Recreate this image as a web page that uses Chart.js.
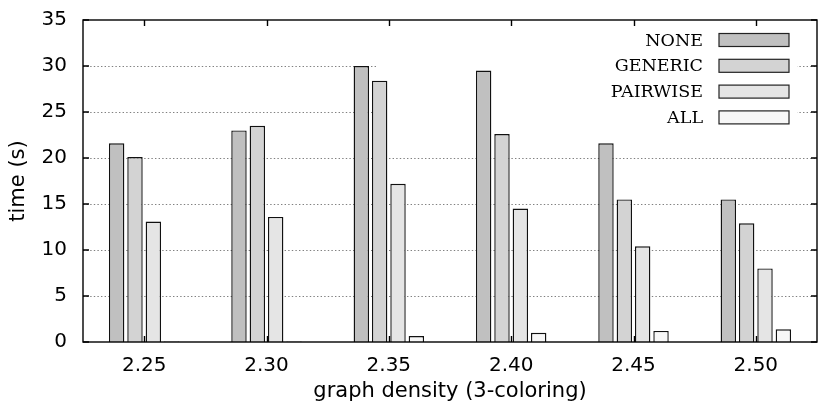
<!DOCTYPE html>
<html>
<head>
<meta charset="utf-8">
<script src="https://cdn.jsdelivr.net/npm/chart.js@4/dist/chart.umd.min.js"></script>
<style>
  html, body { margin: 0; padding: 0; background: #fff; }
  #wrap { width: 818px; height: 406px; }
</style>
</head>
<body>
<div id="wrap"><canvas id="chart" width="818" height="406"></canvas></div>
<script>
// datos
const densities = ["2.25", "2.30", "2.35", "2.40", "2.45", "2.50"];
const noneTimes = [21.6, 23.0, 30.0, 29.5, 21.6, 15.5];
const genericTimes = [20.1, 23.5, 28.4, 22.6, 15.5, 12.9];
const pairwiseTimes = [13.1, 13.6, 17.2, 14.5, 10.4, 8.0];
const allTimes = [0.05, 0.05, 0.65, 1.0, 1.2, 1.38];
const yTicks = [0, 5, 10, 15, 20, 25, 30, 35];

// Caja y marco al estilo gnuplot
const frameKey = {
  id: "frameKey",
  beforeDatasetsDraw(chart) {
    const { ctx, chartArea: a, scales } = chart;
    ctx.save();
    // grilla punteada
    ctx.strokeStyle = "#808080";
    ctx.lineWidth = 1.2;
    ctx.setLineDash([1.4, 2.2]);
    yTicks.forEach((v) => {
      if (v === 0 || v === 35) return;
      const y = Math.round(scales.y.getPixelForValue(v)) + 0.5;
      ctx.beginPath();
      ctx.moveTo(a.left, y);
      ctx.lineTo(a.right, y);
      ctx.stroke();
    });
    ctx.setLineDash([]);
    // fondo opaco de la leyenda
    ctx.fillStyle = "#fff";
    ctx.fillRect(a.right - 440, a.top + 1, 420, 115);
    ctx.restore();
  },
  afterDatasetsDraw(chart) {
    const { ctx, chartArea: a, scales } = chart;
    ctx.save();
    ctx.strokeStyle = "#000";
    ctx.lineWidth = 1.4;
    // ticks hacia adentro
    ctx.beginPath();
    yTicks.forEach((v) => {
      const y = scales.y.getPixelForValue(v);
      ctx.moveTo(a.left, y); ctx.lineTo(a.left + 6, y);
      ctx.moveTo(a.right, y); ctx.lineTo(a.right - 6, y);
    });
    densities.forEach((d, i) => {
      const x = Math.round(scales.x.getPixelForValue(i)) + 0.5;
      ctx.moveTo(x, a.top); ctx.lineTo(x, a.top + 6);
      ctx.moveTo(x, a.bottom); ctx.lineTo(x, a.bottom - 6);
    });
    ctx.stroke();
    ctx.strokeRect(a.left, a.top, a.right - a.left, a.bottom - a.top);

    // leyenda
    ctx.font = "17.5px 'DejaVu Serif'";
    ctx.textAlign = "right";
    ctx.textBaseline = "middle";
    ctx.fillStyle = "#000";
    ctx.lineWidth = 1.2;
    chart.data.datasets.forEach((ds, i) => {
      const yc = a.top + 20 + i * 25.8;
      ctx.fillText(ds.label, a.right - 114, yc + 1);
      ctx.fillStyle = ds.backgroundColor;
      ctx.fillRect(a.right - 98, yc - 6.5, 70, 13);
      ctx.strokeStyle = "#222";
      ctx.strokeRect(a.right - 98, yc - 6.5, 70, 13);
      ctx.fillStyle = "#000";
    });
    ctx.restore();
  },
};

const ctx = document.getElementById("chart").getContext("2d");
new Chart(ctx, {
  type: "bar",
  data: {
    labels: densities,
    datasets: [
      { label: "NONE", data: noneTimes, backgroundColor: "#c0c0c0" },
      { label: "GENERIC", data: genericTimes, backgroundColor: "#d3d3d3" },
      { label: "PAIRWISE", data: pairwiseTimes, backgroundColor: "#e5e5e5" },
      { label: "ALL", data: allTimes, backgroundColor: "#f7f7f7" },
    ],
  },
  options: {
    responsive: false,
    animation: false,
    devicePixelRatio: 1,
    layout: { padding: { top: 20, right: 1, bottom: 0, left: 6 } },
    datasets: {
      bar: {
        borderColor: "#111",
        borderWidth: 1.4,
        categoryPercentage: 0.6,
        barPercentage: 0.84,
      },
    },
    plugins: {
      legend: { display: false },
      tooltip: { enabled: false },
    },
    scales: {
      x: {
        offset: true,
        grid: { display: false, drawTicks: false },
        border: { display: false },
        ticks: {
          color: "#000",
          padding: 12,
          font: { family: "DejaVu Sans", size: 20 },
        },
        title: {
          display: true,
          text: "graph density (3-coloring)",
          color: "#000",
          padding: { top: 0, bottom: 2 },
          font: { family: "DejaVu Sans", size: 21 },
        },
        afterFit: (scale) => { scale.height = 64; },
      },
      y: {
        min: 0,
        max: 35,
        grid: { display: false, drawTicks: false },
        border: { display: false },
        ticks: {
          stepSize: 5,
          color: "#000",
          padding: 16,
          font: { family: "DejaVu Sans", size: 20 },
        },
        title: {
          display: true,
          text: "time (s)",
          color: "#000",
          padding: { top: 0, bottom: 0 },
          font: { family: "DejaVu Sans", size: 21 },
        },
        afterFit: (scale) => {
          scale.width = 77;
          scale.paddingTop = 0;
          scale.paddingBottom = 0;
        },
      },
    },
  },
  plugins: [frameKey],
});
</script>
</body>
</html>
